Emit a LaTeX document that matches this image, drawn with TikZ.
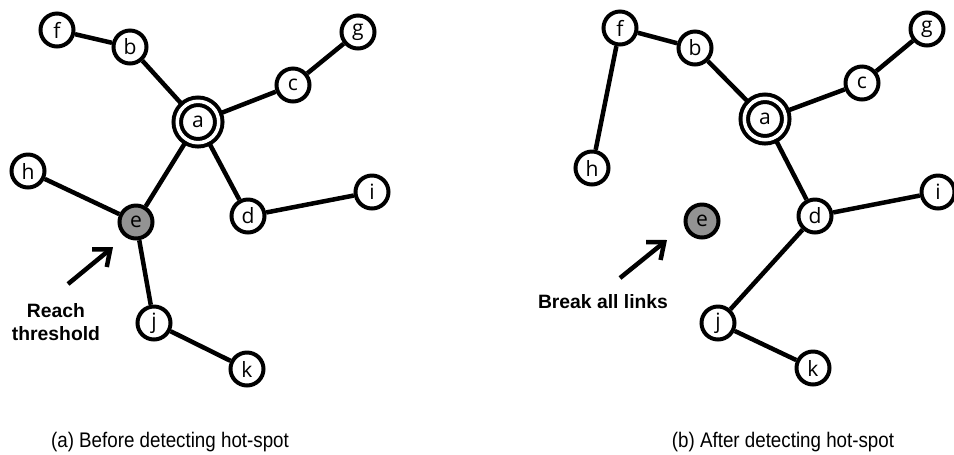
\documentclass[tikz,border=0pt]{standalone}
\usepackage{fontspec}
\setmainfont{Liberation Sans}
\newfontfamily\nodefont{Open Sans}
\newfontfamily\capfont[FakeStretch=0.89]{Liberation Sans}
\usetikzlibrary{arrows.meta}

\tikzset{
	vertex/.style={circle, draw, fill=white, line width=0.08cm, minimum size=0.66cm, inner sep=0pt, font=\nodefont\fontsize{12}{12}\selectfont},
	hub/.style={vertex, double, double distance=0.07cm, minimum size=0.83cm},
	hot/.style={vertex, fill=gray!85},
	link/.style={line width=0.09cm},
	pointer/.style={line width=0.09cm, -{Straight Barb[length=0.28cm, width=0.46cm]}},
	remark/.style={font=\bfseries\fontsize{11}{13.5}\selectfont, align=center},
	caption/.style={font=\capfont\fontsize{12}{14}\selectfont}
}

\begin{document}
\begin{tikzpicture}[x=0.02cm, y=-0.02cm]
	\useasboundingbox (0, 0) rectangle (954, 454);

	% before: e is still linked
	\node[hub] (la) at (198, 122) {a};
	\node[vertex] (lb) at (130, 47) {b};
	\node[vertex] (lc) at (293, 85) {c};
	\node[vertex] (ld) at (248, 216) {d};
	\node[hot] (le) at (136, 222) {e};
	\node[vertex] (lf) at (57, 30) {f};
	\node[vertex] (lg) at (358, 32) {g};
	\node[vertex] (lh) at (28, 171) {h};
	\node[vertex] (li) at (372, 192) {i};
	\node[vertex] (lj) at (154, 323) {j};
	\node[vertex] (lk) at (247, 369) {k};

	\draw[link] (la) -- (lb);
	\draw[link] (la) -- (lc);
	\draw[link] (la) -- (ld);
	\draw[link] (la) -- (le);
	\draw[link] (lb) -- (lf);
	\draw[link] (lc) -- (lg);
	\draw[link] (ld) -- (li);
	\draw[link] (le) -- (lh);
	\draw[link] (le) -- (lj);
	\draw[link] (lj) -- (lk);

	\coordinate (ltail) at (68, 284);
	\coordinate (lhead) at (113, 247);
	\draw[pointer] (ltail) -- (lhead);
	\node[remark] (lnote) at (56, 322) {Reach\\threshold};
	\node[caption] (lcap) at (170, 442) {(a) Before detecting hot-spot};

	% after: e is cut off, h hangs on f and j on d
	\node[hub] (ra) at (765, 119) {a};
	\node[vertex] (rb) at (695, 48) {b};
	\node[vertex] (rc) at (862, 83) {c};
	\node[vertex] (rd) at (815, 216) {d};
	\node[hot] (re) at (702, 221) {e};
	\node[vertex] (rf) at (620, 28) {f};
	\node[vertex] (rg) at (927, 29) {g};
	\node[vertex] (rh) at (592, 168) {h};
	\node[vertex] (ri) at (938, 192) {i};
	\node[vertex] (rj) at (718, 323) {j};
	\node[vertex] (rk) at (813, 368) {k};

	\draw[link] (ra) -- (rb);
	\draw[link] (ra) -- (rc);
	\draw[link] (ra) -- (rd);
	\draw[link] (rb) -- (rf);
	\draw[link] (rc) -- (rg);
	\draw[link] (rd) -- (ri);
	\draw[link] (rf) -- (rh);
	\draw[link] (rd) -- (rj);
	\draw[link] (rj) -- (rk);

	\coordinate (rtail) at (620, 278);
	\coordinate (rhead) at (667, 240);
	\draw[pointer] (rtail) -- (rhead);
	\node[remark] (rnote) at (603, 302) {Break all links};
	\node[caption] (rcap) at (783, 442) {(b) After detecting hot-spot};
\end{tikzpicture}
\end{document}
